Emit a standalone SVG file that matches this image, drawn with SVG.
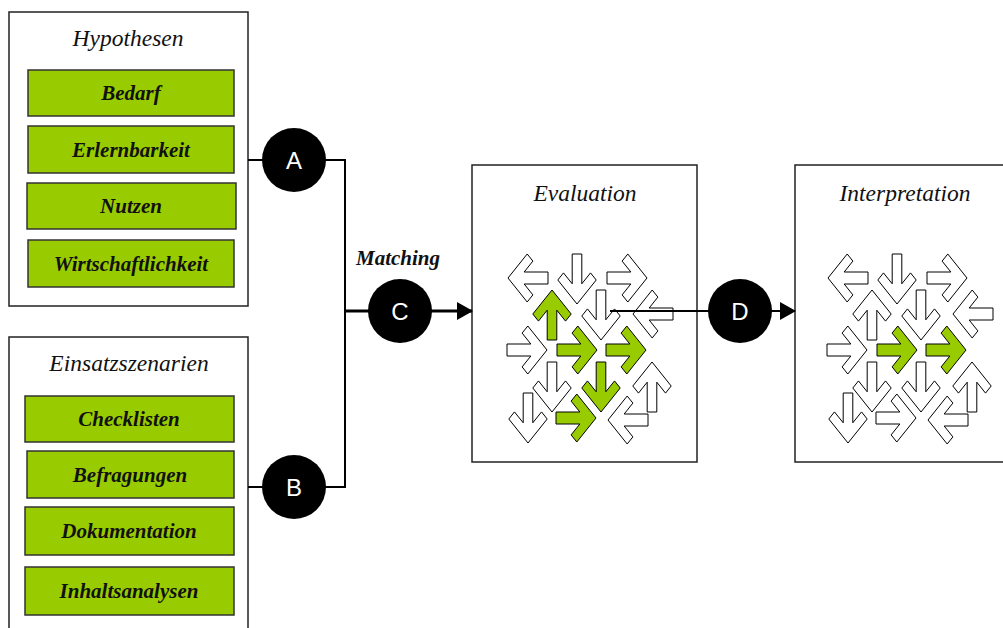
<svg xmlns="http://www.w3.org/2000/svg" xmlns:xlink="http://www.w3.org/1999/xlink" width="1003" height="628" viewBox="0 0 1003 628">
<style>
.box{fill:#fff;stroke:#222;stroke-width:1.5}
.item{fill:#99cc00;stroke:#333;stroke-width:1.5}
.title{font-family:"Liberation Serif","Times New Roman",serif;font-style:italic;font-size:23.5px;fill:#111;text-anchor:middle}
.lbl{font-family:"Liberation Serif","Times New Roman",serif;font-style:italic;font-weight:bold;font-size:21px;fill:#111;text-anchor:middle}
.circ{fill:#000}
.cl{font-family:"Liberation Sans",Arial,sans-serif;font-size:24px;fill:#fff;text-anchor:middle}
.ln{fill:none;stroke:#000;stroke-width:2}
.lnt{fill:none;stroke:#000;stroke-width:3}
.w{fill:#fff}
.g{fill:#99cc00}
</style>
<defs>
<path id="arr" d="M0,0 L24,24 L16.9,31.1 L6,20.2 L6,50 L-6,50 L-6,20.2 L-16.9,31.1 L-24,24 Z" stroke="#000" stroke-width="1" stroke-linejoin="miter" vector-effect="non-scaling-stroke"/>
<marker id="ah" markerWidth="16" markerHeight="18" refX="15" refY="9" orient="auto" markerUnits="userSpaceOnUse">
<path d="M0,0 L16,9 L0,18 Z" fill="#000"/>
</marker>
</defs>

<g id="hypothesen">
<rect class="box" x="9" y="12" width="239" height="294"/>
<text class="title" x="128" y="46">Hypothesen</text>
<rect class="item" x="28" y="70" width="206" height="46"/>
<text class="lbl" x="131" y="100">Bedarf</text>
<rect class="item" x="28" y="126" width="206" height="47"/>
<text class="lbl" x="131" y="157">Erlernbarkeit</text>
<rect class="item" x="27" y="183" width="209" height="46"/>
<text class="lbl" x="131" y="213">Nutzen</text>
<rect class="item" x="28" y="240" width="206" height="47"/>
<text class="lbl" x="131" y="271">Wirtschaftlichkeit</text>
</g>

<g id="einsatzszenarien">
<rect class="box" x="9" y="337" width="239" height="300"/>
<text class="title" x="129" y="371">Einsatzszenarien</text>
<rect class="item" x="25" y="396" width="209" height="46"/>
<text class="lbl" x="129" y="426">Checklisten</text>
<rect class="item" x="27" y="451" width="207" height="47"/>
<text class="lbl" x="130" y="482">Befragungen</text>
<rect class="item" x="25" y="507" width="209" height="48"/>
<text class="lbl" x="129" y="538">Dokumentation</text>
<rect class="item" x="25" y="567" width="209" height="48"/>
<text class="lbl" x="129" y="598">Inhaltsanalysen</text>
</g>

<g id="evaluation">
<rect class="box" x="472" y="165" width="225" height="297"/>
<text class="title" x="585" y="201">Evaluation</text>
<use href="#arr" class="w" transform="translate(508,278) scale(0.8,1) rotate(-90)"/>
<use href="#arr" class="w" transform="translate(577,304) scale(0.8,1) rotate(180)"/>
<use href="#arr" class="w" transform="translate(647,278) scale(0.8,1) rotate(90)"/>
<use href="#arr" class="g" transform="translate(552,290) scale(0.8,1)"/>
<use href="#arr" class="w" transform="translate(601,340) scale(0.8,1) rotate(180)"/>
<use href="#arr" class="w" transform="translate(633,314) scale(0.8,1) rotate(-90)"/>
<use href="#arr" class="w" transform="translate(547,350) scale(0.8,1) rotate(90)"/>
<use href="#arr" class="g" transform="translate(597,350) scale(0.8,1) rotate(90)"/>
<use href="#arr" class="g" transform="translate(646,350) scale(0.8,1) rotate(90)"/>
<use href="#arr" class="w" transform="translate(552,412) scale(0.8,1) rotate(180)"/>
<use href="#arr" class="g" transform="translate(601,412) scale(0.8,1) rotate(180)"/>
<use href="#arr" class="w" transform="translate(652,362) scale(0.8,1)"/>
<use href="#arr" class="w" transform="translate(528,443) scale(0.8,1) rotate(180)"/>
<use href="#arr" class="g" transform="translate(596,418) scale(0.8,1) rotate(90)"/>
<use href="#arr" class="w" transform="translate(608,420) scale(0.8,1) rotate(-90)"/>
</g>

<g id="interpretation">
<rect class="box" x="795" y="165" width="220" height="297"/>
<text class="title" x="905" y="201">Interpretation</text>
<use href="#arr" class="w" transform="translate(828,278) scale(0.8,1) rotate(-90)"/>
<use href="#arr" class="w" transform="translate(897,304) scale(0.8,1) rotate(180)"/>
<use href="#arr" class="w" transform="translate(967,278) scale(0.8,1) rotate(90)"/>
<use href="#arr" class="w" transform="translate(872,290) scale(0.8,1)"/>
<use href="#arr" class="w" transform="translate(921,340) scale(0.8,1) rotate(180)"/>
<use href="#arr" class="w" transform="translate(953,314) scale(0.8,1) rotate(-90)"/>
<use href="#arr" class="w" transform="translate(867,350) scale(0.8,1) rotate(90)"/>
<use href="#arr" class="g" transform="translate(917,350) scale(0.8,1) rotate(90)"/>
<use href="#arr" class="g" transform="translate(966,350) scale(0.8,1) rotate(90)"/>
<use href="#arr" class="w" transform="translate(872,412) scale(0.8,1) rotate(180)"/>
<use href="#arr" class="w" transform="translate(921,412) scale(0.8,1) rotate(180)"/>
<use href="#arr" class="w" transform="translate(972,362) scale(0.8,1)"/>
<use href="#arr" class="w" transform="translate(848,443) scale(0.8,1) rotate(180)"/>
<use href="#arr" class="w" transform="translate(916,418) scale(0.8,1) rotate(90)"/>
<use href="#arr" class="w" transform="translate(928,420) scale(0.8,1) rotate(-90)"/>
</g>

<g id="connectors">
<path class="ln" d="M248,160 H345 V487 H248"/>
<path class="lnt" d="M345,311 H472" marker-end="url(#ah)"/>
<path class="ln" d="M610,311 H795" marker-end="url(#ah)"/>
</g>

<g id="node-A">
<circle class="circ" cx="294" cy="160" r="32"/>
<text class="cl" x="294" y="169">A</text>
</g>
<g id="node-B">
<circle class="circ" cx="294" cy="487" r="32"/>
<text class="cl" x="294" y="496">B</text>
</g>
<g id="node-C">
<circle class="circ" cx="400" cy="311" r="32"/>
<text class="cl" x="400" y="320">C</text>
<text class="lbl" x="398" y="265">Matching</text>
</g>
<g id="node-D">
<circle class="circ" cx="740" cy="311" r="32"/>
<text class="cl" x="740" y="320">D</text>
</g>
</svg>
